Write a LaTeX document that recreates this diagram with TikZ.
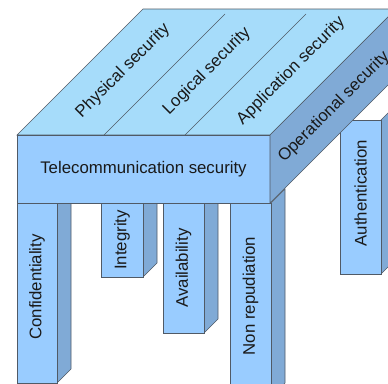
\documentclass[tikz,border=0pt]{standalone}
\usepackage{fontspec}
\setmainfont{Liberation Sans}
\usepackage{tikz}
\definecolor{topblue}{RGB}{166,220,250}
\definecolor{frontblue}{RGB}{153,204,255}
\definecolor{sideblue}{RGB}{128,170,214}
\definecolor{edge}{RGB}{80,90,102}
\begin{document}
\begin{tikzpicture}[x=1pt,y=-1pt]
    \tikzstyle{topface}=[fill=topblue,draw=edge,line width=0.6pt]
    \tikzstyle{frontface}=[fill=frontblue,draw=edge,line width=0.6pt]
    \tikzstyle{sideface}=[fill=sideblue,draw=edge,line width=0.6pt]
    \tikzstyle{lbl}=[inner sep=0,font=\fontsize{16.8}{20}\selectfont,text=black!90]
    \useasboundingbox (0,0) rectangle (388,383);
    \clip (0,0) rectangle (388,383);
    % legs, drawn first so the table hides their tops
    \foreach \xa/\xb/\ya/\yb in {340/381/120/274, 17/57/203/383, 101/143/203/277, 163/204/203/333, 230/271/203/397} {
      \draw[sideface] (\xb,\ya) -- (\xb+14,\ya-14) -- (\xb+14,\yb-14) -- (\xb,\yb) -- cycle;
      \draw[frontface] (\xa,\ya) rectangle (\xb,\yb);
    }
    % table
    \coordinate (fl) at (17,135);
    \coordinate (fr) at (270,135);
    \coordinate (bl) at (143,9);
    \coordinate (br) at (396,9);
    \coordinate (dl) at (17,203);
    \coordinate (dr) at (270,203);
    \draw[topface] (fl) -- (fr) -- (br) -- (bl) -- cycle;
    \draw[edge,line width=0.4pt] (104,135) -- ++(121,-121);
    \draw[edge,line width=0.4pt] (185,135) -- ++(121,-121);
    \draw[frontface] (dl) rectangle (fr);
    \draw[sideface] (fr) -- (br) -- ++(0,68) -- (dr) -- cycle;
    % labels
    \node[lbl,rotate=45] (phys) at (123,71) {Physical security};
    \node[lbl,rotate=45] (logi) at (207,71) {Logical security};
    \node[lbl,rotate=45] (appl) at (291,71) {Application security};
    \node[lbl,rotate=45] (oper) at (334,107) {Operational security};
    \node[lbl] (tele) at (143.5,169) {Telecommunication security};
    \node[lbl,rotate=90] (conf) at (37,287) {Confidentiality};
    \node[lbl,rotate=90] (inte) at (122,240) {Integrity};
    \node[lbl,rotate=90] (avai) at (183.5,268) {Availability};
    \node[lbl,rotate=90] (nonr) at (250.5,296) {Non repudiation};
    \node[lbl,rotate=90] (auth) at (360.5,193) {Authentication};
\end{tikzpicture}
\end{document}
